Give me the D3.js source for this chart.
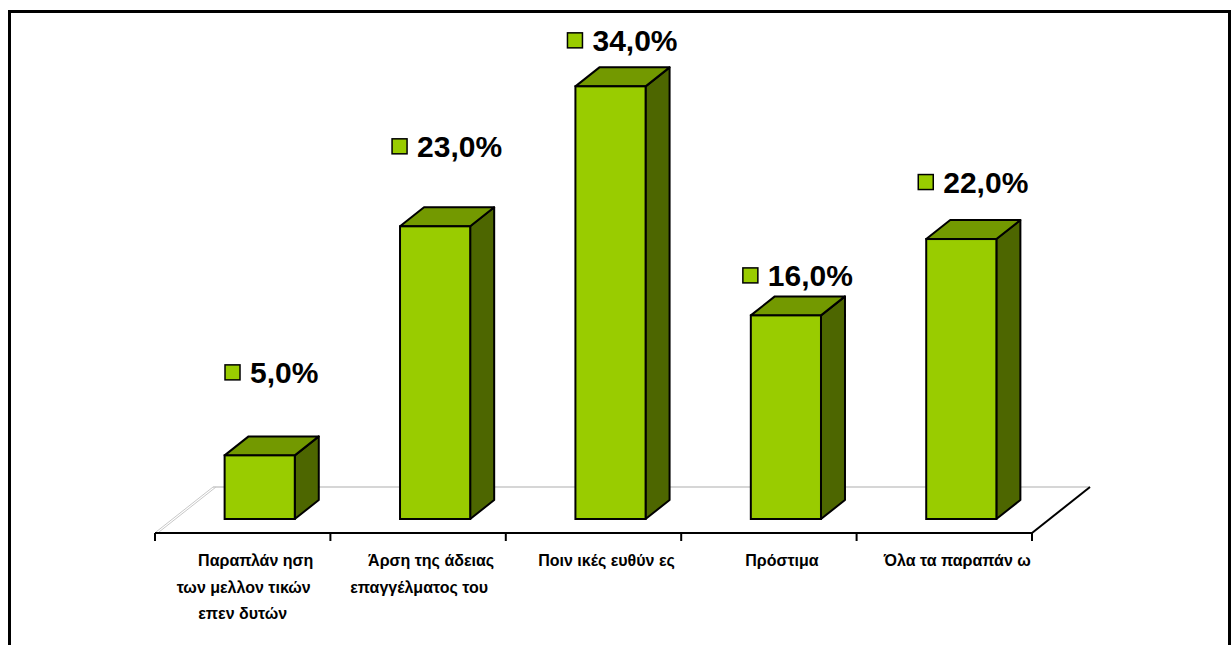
<!DOCTYPE html>
<html>
<head>
<meta charset="utf-8">
<script src="https://cdn.jsdelivr.net/npm/d3@7"></script>
<style>
  html, body { margin: 0; padding: 0; background: #fff; }
  svg { display: block; }
</style>
</head>
<body>
<svg id="chart" width="1231" height="645"></svg>
<script>
// ---- data ----
const categories = [
  ["Παραπλάν ηση", "των  μελλον τικών", "επεν δυτών"],
  ["Άρση της άδειας", "επαγγέλματος του"],
  ["Ποιν ικές ευθύν ες"],
  ["Πρόστιμα"],
  ["Όλα τα παραπάν ω"]
];
const values = [5.0, 23.0, 34.0, 16.0, 22.0];
const valueLabels = ["5,0%", "23,0%", "34,0%", "16,0%", "22,0%"];

// ---- layout ----
const labelLift = [83, 80, 46, 40, 57]; // px above bar's front top
const lineShift = [13, 1, 0];           // px horizontal shift per label line
const svg = d3.select("#chart");
const font = "'Liberation Sans', Arial, sans-serif";
const colFront = "#99CC00", colTop = "#739900", colSide = "#4D6600";

const floorFrontY = 533;
const floorDepth = [58, -46];
const barDepth = [24, -19];
const barOffset = [17, -14];
const baseY = floorFrontY + barOffset[1]; // 519

const x = d3.scaleBand().domain(d3.range(categories.length)).range([155, 1032]).padding(0);
const y = d3.scaleLinear().domain([0, 40]).range([baseY, 10]);

// outer border
svg.append("rect").attr("x", 9.5).attr("y", 11.5).attr("width", 1220).attr("height", 700)
  .attr("fill", "none").attr("stroke", "#000").attr("stroke-width", 3);

// floor
const x0 = x.range()[0], x1 = x.range()[1];
svg.append("line").attr("x1", x0 + floorDepth[0]).attr("x2", x1 + floorDepth[0])
  .attr("y1", floorFrontY + floorDepth[1]).attr("y2", floorFrontY + floorDepth[1])
  .attr("stroke", "#c8c8c8").attr("stroke-width", 1.5);
[0, 3].forEach(o => {
  svg.append("line").attr("x1", x0 + 1 + o).attr("y1", floorFrontY - 1)
    .attr("x2", x0 + floorDepth[0] + o).attr("y2", floorFrontY + floorDepth[1])
    .attr("stroke", "#c8c8c8").attr("stroke-width", 1);
});
svg.append("line").attr("x1", x1).attr("y1", floorFrontY)
  .attr("x2", x1 + floorDepth[0]).attr("y2", floorFrontY + floorDepth[1])
  .attr("stroke", "#000").attr("stroke-width", 2);

// bars
const bw = x.bandwidth() * 0.4;
const g = svg.append("g");
values.forEach((v, i) => {
  const fx = x(i) + (x.bandwidth() - bw) / 2 + barOffset[0];
  const ty = y(v);
  const [dx, dy] = barDepth;
  const sw = 2;
  g.append("polygon")
    .attr("points", [[fx + bw, ty], [fx + bw + dx, ty + dy], [fx + bw + dx, baseY + dy], [fx + bw, baseY]].join(" "))
    .attr("fill", colSide).attr("stroke", "#000").attr("stroke-width", sw).attr("stroke-linejoin", "round");
  g.append("polygon")
    .attr("points", [[fx, ty], [fx + dx, ty + dy], [fx + bw + dx, ty + dy], [fx + bw, ty]].join(" "))
    .attr("fill", colTop).attr("stroke", "#000").attr("stroke-width", sw).attr("stroke-linejoin", "round");
  g.append("rect").attr("x", fx).attr("y", ty).attr("width", bw).attr("height", baseY - ty)
    .attr("fill", colFront).attr("stroke", "#000").attr("stroke-width", sw);

  // value label
  const cx = fx + (bw + dx) / 2;
  const cy = ty - labelLift[i];
  const lg = svg.append("g");
  const t = lg.append("text").attr("x", 0).attr("y", cy + 11)
    .attr("font-family", font).attr("font-weight", "bold").attr("font-size", 30)
    .attr("fill", "#000").text(valueLabels[i]);
  const tw = t.node().getComputedTextLength();
  const sq = 15, gap = 10;
  const total = sq + gap + tw;
  const left = cx - total / 2;
  lg.insert("rect", "text").attr("x", left).attr("y", cy - sq / 2).attr("width", sq).attr("height", sq)
    .attr("fill", colFront).attr("stroke", "#000").attr("stroke-width", 1.5);
  t.attr("x", left + sq + gap);
});

// front axis line
svg.append("line").attr("x1", x0).attr("x2", x1).attr("y1", floorFrontY).attr("y2", floorFrontY)
  .attr("stroke", "#000").attr("stroke-width", 2);
const bounds = d3.range(categories.length).map(i => x(i)).concat([x1]);
bounds.forEach(b => {
  svg.append("line").attr("x1", b).attr("x2", b).attr("y1", floorFrontY).attr("y2", floorFrontY + 8)
    .attr("stroke", "#000").attr("stroke-width", 2);
});

// category labels
categories.forEach((lines, i) => {
  const t = svg.append("text").attr("text-anchor", "middle")
    .attr("font-family", font).attr("font-weight", "bold").attr("font-size", 16).attr("fill", "#000");
  lines.forEach((ln, k) => {
    t.append("tspan").attr("x", x(i) + x.bandwidth() / 2 + lineShift[k]).attr("y", 566 + k * 26.5).text(ln);
  });
});
</script>
</body>
</html>
